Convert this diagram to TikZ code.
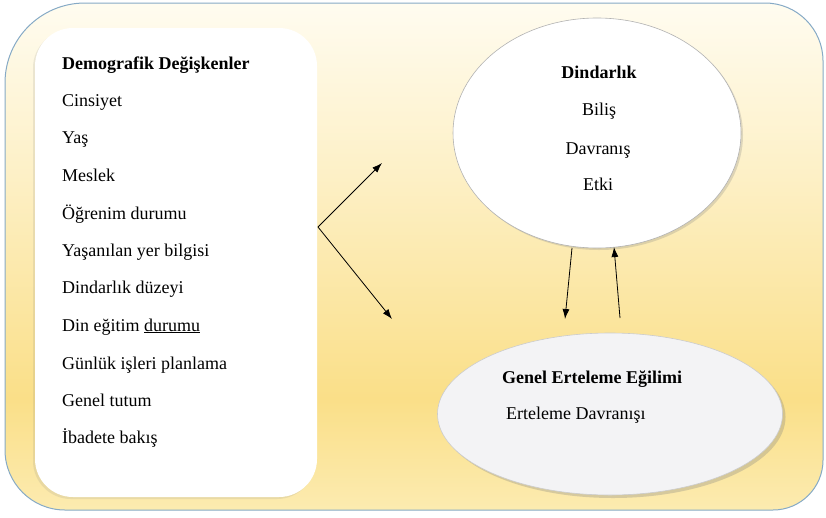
\documentclass[tikz,border=0pt]{standalone}
\usepackage{fontspec}
\setmainfont{Liberation Serif}
\usetikzlibrary{shapes.geometric,shadows,arrows.meta}
\definecolor{bgtop}{HTML}{FFFCF0}
\definecolor{bgup}{HTML}{FDF0C6}
\definecolor{bgmid}{HTML}{FADF88}
\definecolor{bgbot}{HTML}{FCEBB0}
\definecolor{rimblue}{HTML}{86AAC6}
\definecolor{ellgray}{HTML}{F3F3F5}
\pgfdeclareverticalshading{bgshade}{100bp}{color(0bp)=(bgbot); color(25bp)=(bgbot); color(36bp)=(bgmid); color(58bp)=(bgup); color(75bp)=(bgtop); color(100bp)=(bgtop)}
\tikzset{
  txt/.style={anchor=base west, inner sep=0pt, font=\fontsize{18}{20}\selectfont},
  ctxt/.style={anchor=base, inner sep=0pt, font=\fontsize{18}{20}\selectfont},
  conn/.style={draw=black, line width=0.8pt, -{Latex[length=10pt,width=7pt]}},
}
\begin{document}
\begin{tikzpicture}[x=1pt,y=-1pt]
\useasboundingbox (0,0) rectangle (826,517);
% outer panel
\path[draw=rimblue, line width=1pt, shading=bgshade]
  (5,300) [rounded corners=60pt] -- (5,510) [rounded corners=50pt] -- (823,510)
  [rounded corners=58pt] -- (823,3) [rounded corners=80pt] -- (5,3) [sharp corners] -- cycle;
% left box
\node (lbox) [draw=none, fill=white, rounded corners=38pt, minimum width=282pt, minimum height=469pt,
  drop shadow={shadow xshift=-2pt, shadow yshift=-2pt, opacity=0.15, fill=gray}] at (176,262.5) {};
\node (d0) [txt, font=\fontsize{18}{20}\selectfont\bfseries] at (62,69) {Demografik Değişkenler};
\node (d1) [txt] at (62,106) {Cinsiyet};
\node (d2) [txt] at (62,143) {Yaş};
\node (d3) [txt] at (62,181) {Meslek};
\node (d4) [txt] at (62,219) {Öğrenim durumu};
\node (d5) [txt] at (62,256) {Yaşanılan yer bilgisi};
\node (d6) [txt] at (62,293) {Dindarlık düzeyi};
\node (d7) [txt] at (62,331) {Din eğitim \underline{durumu}};
\node (d8) [txt] at (62,369) {Günlük işleri planlama};
\node (d9) [txt] at (62,406) {Genel tutum};
\node (d10) [txt] at (62,443) {İbadete bakış};
% top ellipse
\node (din) [ellipse, draw=gray!60, line width=0.6pt, fill=white, minimum width=288pt, minimum height=230pt, inner sep=0pt,
  drop shadow={shadow xshift=2pt, shadow yshift=-2pt, opacity=0.25, fill=gray}] at (597,133) {};
\node (t0) [ctxt, font=\fontsize{18}{20}\selectfont\bfseries] at (599,78) {Dindarlık};
\node (t1) [ctxt] at (599,115) {Biliş};
\node (t2) [ctxt] at (598,154) {Davranış};
\node (t3) [ctxt] at (598,190) {Etki};
% bottom ellipse
\node (gen) [ellipse, draw=gray!40, line width=0.6pt, fill=ellgray, minimum width=345pt, minimum height=162pt, inner sep=0pt,
  drop shadow={shadow xshift=3pt, shadow yshift=-3pt, opacity=0.3, fill=gray}] at (610,414) {};
\node (g0) [txt, font=\fontsize{18}{20}\selectfont\bfseries] at (502,383) {Genel Erteleme Eğilimi};
\node (g1) [txt] at (506,419) {Erteleme Davranışı};
% connectors
\coordinate (v) at (318,227);
\coordinate (tipA) at (382,163);
\coordinate (tipB) at (392,319);
\coordinate (dS) at (572,248);
\coordinate (dE) at (565,319);
\coordinate (uS) at (620,318);
\coordinate (uE) at (614,247);
\draw[conn] (v) -- (tipA);
\draw[conn] (v) -- (tipB);
\draw[conn] (dS) -- (dE);
\draw[conn] (uS) -- (uE);
\end{tikzpicture}
\end{document}
